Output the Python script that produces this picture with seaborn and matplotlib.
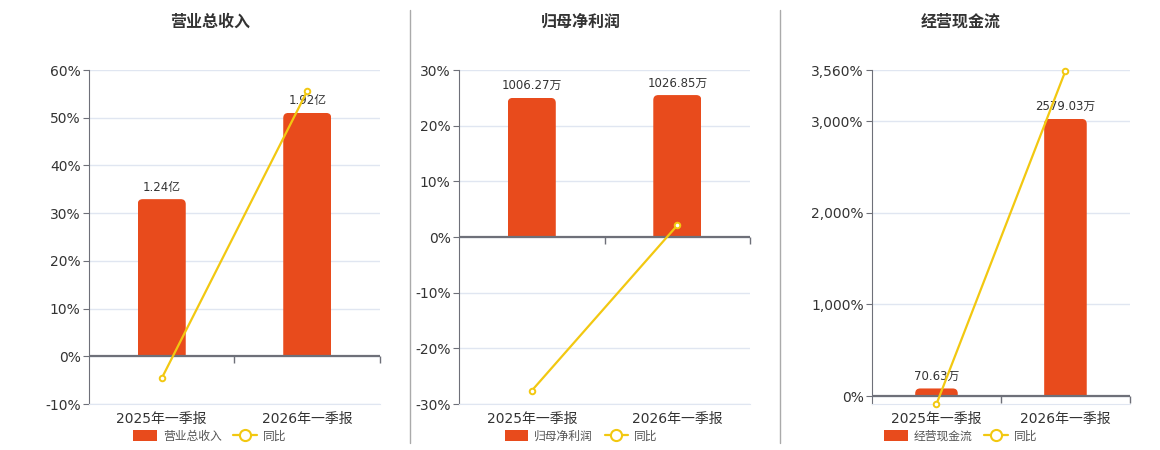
import matplotlib
matplotlib.use("Agg")
import matplotlib.pyplot as plt
import numpy as np
import seaborn as sns
from matplotlib.lines import Line2D
from matplotlib.patches import FancyBboxPatch, Patch
from matplotlib.ticker import FuncFormatter

# 数据
categories = ["2025年一季报", "2026年一季报"]

revenue = [1.24, 1.92]
revenue_labels = ["1.24亿", "1.92亿"]
revenue_yoy = [-4.6, 55.6]

profit = [1006.27, 1026.85]
profit_labels = ["1006.27万", "1026.85万"]
profit_yoy = [-27.6, 2.1]

cash = [70.63, 2579.03]
cash_labels = ["70.63万", "2579.03万"]
cash_yoy = [-87.0, 3551.0]

titles = ["营业总收入", "归母净利润", "经营现金流"]
yoy_label = "同比"

BAR_COLOR = "#E84B1C"
LINE_COLOR = "#F2C811"
GRID_COLOR = "#E0E6F1"
AXIS_COLOR = "#6E7079"
TEXT_COLOR = "#333333"

sns.set_style("white")
plt.rcParams["font.family"] = ["DejaVu Sans", "Noto Sans CJK SC"]


def round_bar_tops(ax, radius_px=5):
    # 把 seaborn 画出的矩形换成上方圆角的柱子
    x_px = ax.transData.transform([(1, 0)])[0][0] - ax.transData.transform([(0, 0)])[0][0]
    y_px = ax.transData.transform([(0, 1)])[0][1] - ax.transData.transform([(0, 0)])[0][1]
    rx = radius_px / x_px
    ry = radius_px / y_px
    for rect in list(ax.patches):
        x0, y0 = rect.get_x(), rect.get_y()
        w, h = rect.get_width(), rect.get_height()
        r = min(rx, w / 2)
        box = FancyBboxPatch(
            (x0, y0 - ry), w, h + ry,
            boxstyle=f"round,pad=0,rounding_size={r}",
            mutation_aspect=ry / rx,
            facecolor=BAR_COLOR, edgecolor="none", zorder=2,
        )
        ax.add_patch(box)
        rect.set_visible(False)
        box.set_clip_path(rect)


def draw_panel(fig, rect, values, labels, yoy, ylim, yticks):
    ax = fig.add_axes(rect)
    ax.set_ylim(*ylim)
    ax.set_yticks(yticks)
    ax.yaxis.set_major_formatter(FuncFormatter(lambda v, _: f"{v:,.0f}%"))
    ax.grid(axis="y", color=GRID_COLOR, linewidth=1)
    ax.set_axisbelow(True)
    for side in ["top", "right"]:
        ax.spines[side].set_visible(False)
    ax.spines["left"].set_color(AXIS_COLOR)
    ax.spines["bottom"].set_color(GRID_COLOR)
    ax.tick_params(axis="y", length=4, color=AXIS_COLOR, labelsize=10,
                   labelcolor=TEXT_COLOR, pad=2)
    ax.tick_params(axis="x", length=0, labelsize=10, labelcolor=TEXT_COLOR, pad=6)

    # 柱子用单独的坐标轴, 零点和百分比轴对齐
    ax_bar = ax.twinx()
    lo, hi = ylim
    bar_top = max(values) / 0.85
    ax_bar.set_ylim(bar_top * lo / hi, bar_top)
    sns.barplot(x=categories, y=values, ax=ax_bar, color=BAR_COLOR,
                width=0.33, saturation=1)
    ax_bar.set_xlim(-0.5, len(categories) - 0.5)
    ax_bar.set_yticks([])
    ax_bar.set_ylabel("")
    for side in ax_bar.spines.values():
        side.set_visible(False)
    round_bar_tops(ax_bar)
    for i, (v, lab) in enumerate(zip(values, labels)):
        ax_bar.annotate(lab, (i, v), xytext=(0, 4), textcoords="offset points",
                        ha="center", va="bottom", fontsize=8.5, color=TEXT_COLOR)

    # 同比折线
    ax_line = ax.twinx()
    ax_line.set_ylim(*ylim)
    ax_line.axhline(0, color=AXIS_COLOR, linewidth=1.6, zorder=1)
    bounds = np.arange(len(categories)) + 0.5
    ax_line.plot(bounds, np.zeros(len(bounds)), marker=3, markersize=5,
                 linestyle="none", color=AXIS_COLOR, clip_on=False)
    sns.lineplot(x=np.arange(len(categories)), y=yoy, ax=ax_line, color=LINE_COLOR,
                 linewidth=1.6, marker="o", markersize=4, markerfacecolor="white",
                 markeredgecolor=LINE_COLOR, markeredgewidth=1.4, clip_on=False,
                 zorder=5)
    ax_line.set_yticks([])
    ax_line.set_ylabel("")
    for side in ax_line.spines.values():
        side.set_visible(False)

    ax.set_xlim(-0.5, len(categories) - 0.5)
    ax.set_xticks(range(len(categories)))
    ax.set_xticklabels(categories)
    return ax


fig = plt.figure(figsize=(11.6, 4.5), dpi=100)

panels = [
    ([0.0767, 0.1022, 0.2509, 0.7422], revenue, revenue_labels, revenue_yoy,
     (-10, 60), [-10, 0, 10, 20, 30, 40, 50, 60]),
    ([0.3957, 0.1022, 0.2509, 0.7422], profit, profit_labels, profit_yoy,
     (-30, 30), [-30, -20, -10, 0, 10, 20, 30]),
    ([0.7517, 0.1022, 0.2224, 0.7422], cash, cash_labels, cash_yoy,
     (min(cash_yoy), 3560), [0, 1000, 2000, 3000, 3560]),
]
centers = [0.181, 0.501, 0.828]

for (rect, vals, labs, yoy, ylim, ticks), title, cx in zip(panels, titles, centers):
    draw_panel(fig, rect, vals, labs, yoy, ylim, ticks)
    fig.text(cx, 0.951, title, ha="center", va="center", fontsize=11.5,
             fontweight="bold", color=TEXT_COLOR)
    handles = [
        Patch(facecolor=BAR_COLOR, edgecolor="none", label=title),
        Line2D([0], [0], color=LINE_COLOR, linewidth=1.6, marker="o", markersize=8,
               markerfacecolor="white", markeredgecolor=LINE_COLOR,
               markeredgewidth=1.5, label=yoy_label),
    ]
    fig.legend(handles=handles, loc="center", bbox_to_anchor=(cx, 0.031), ncol=2,
               frameon=False, fontsize=8.5, handlelength=2.0, handleheight=1.1,
               columnspacing=1.0, handletextpad=0.5, labelcolor="#555555")

# 面板之间的分隔线
for x in [410 / 1160, 780 / 1160]:
    fig.add_artist(Line2D([x, x], [1 - 10 / 450, 1 - 443 / 450],
                          color="#AAAAAA", linewidth=1))

fig.savefig("out.png", dpi=100)
